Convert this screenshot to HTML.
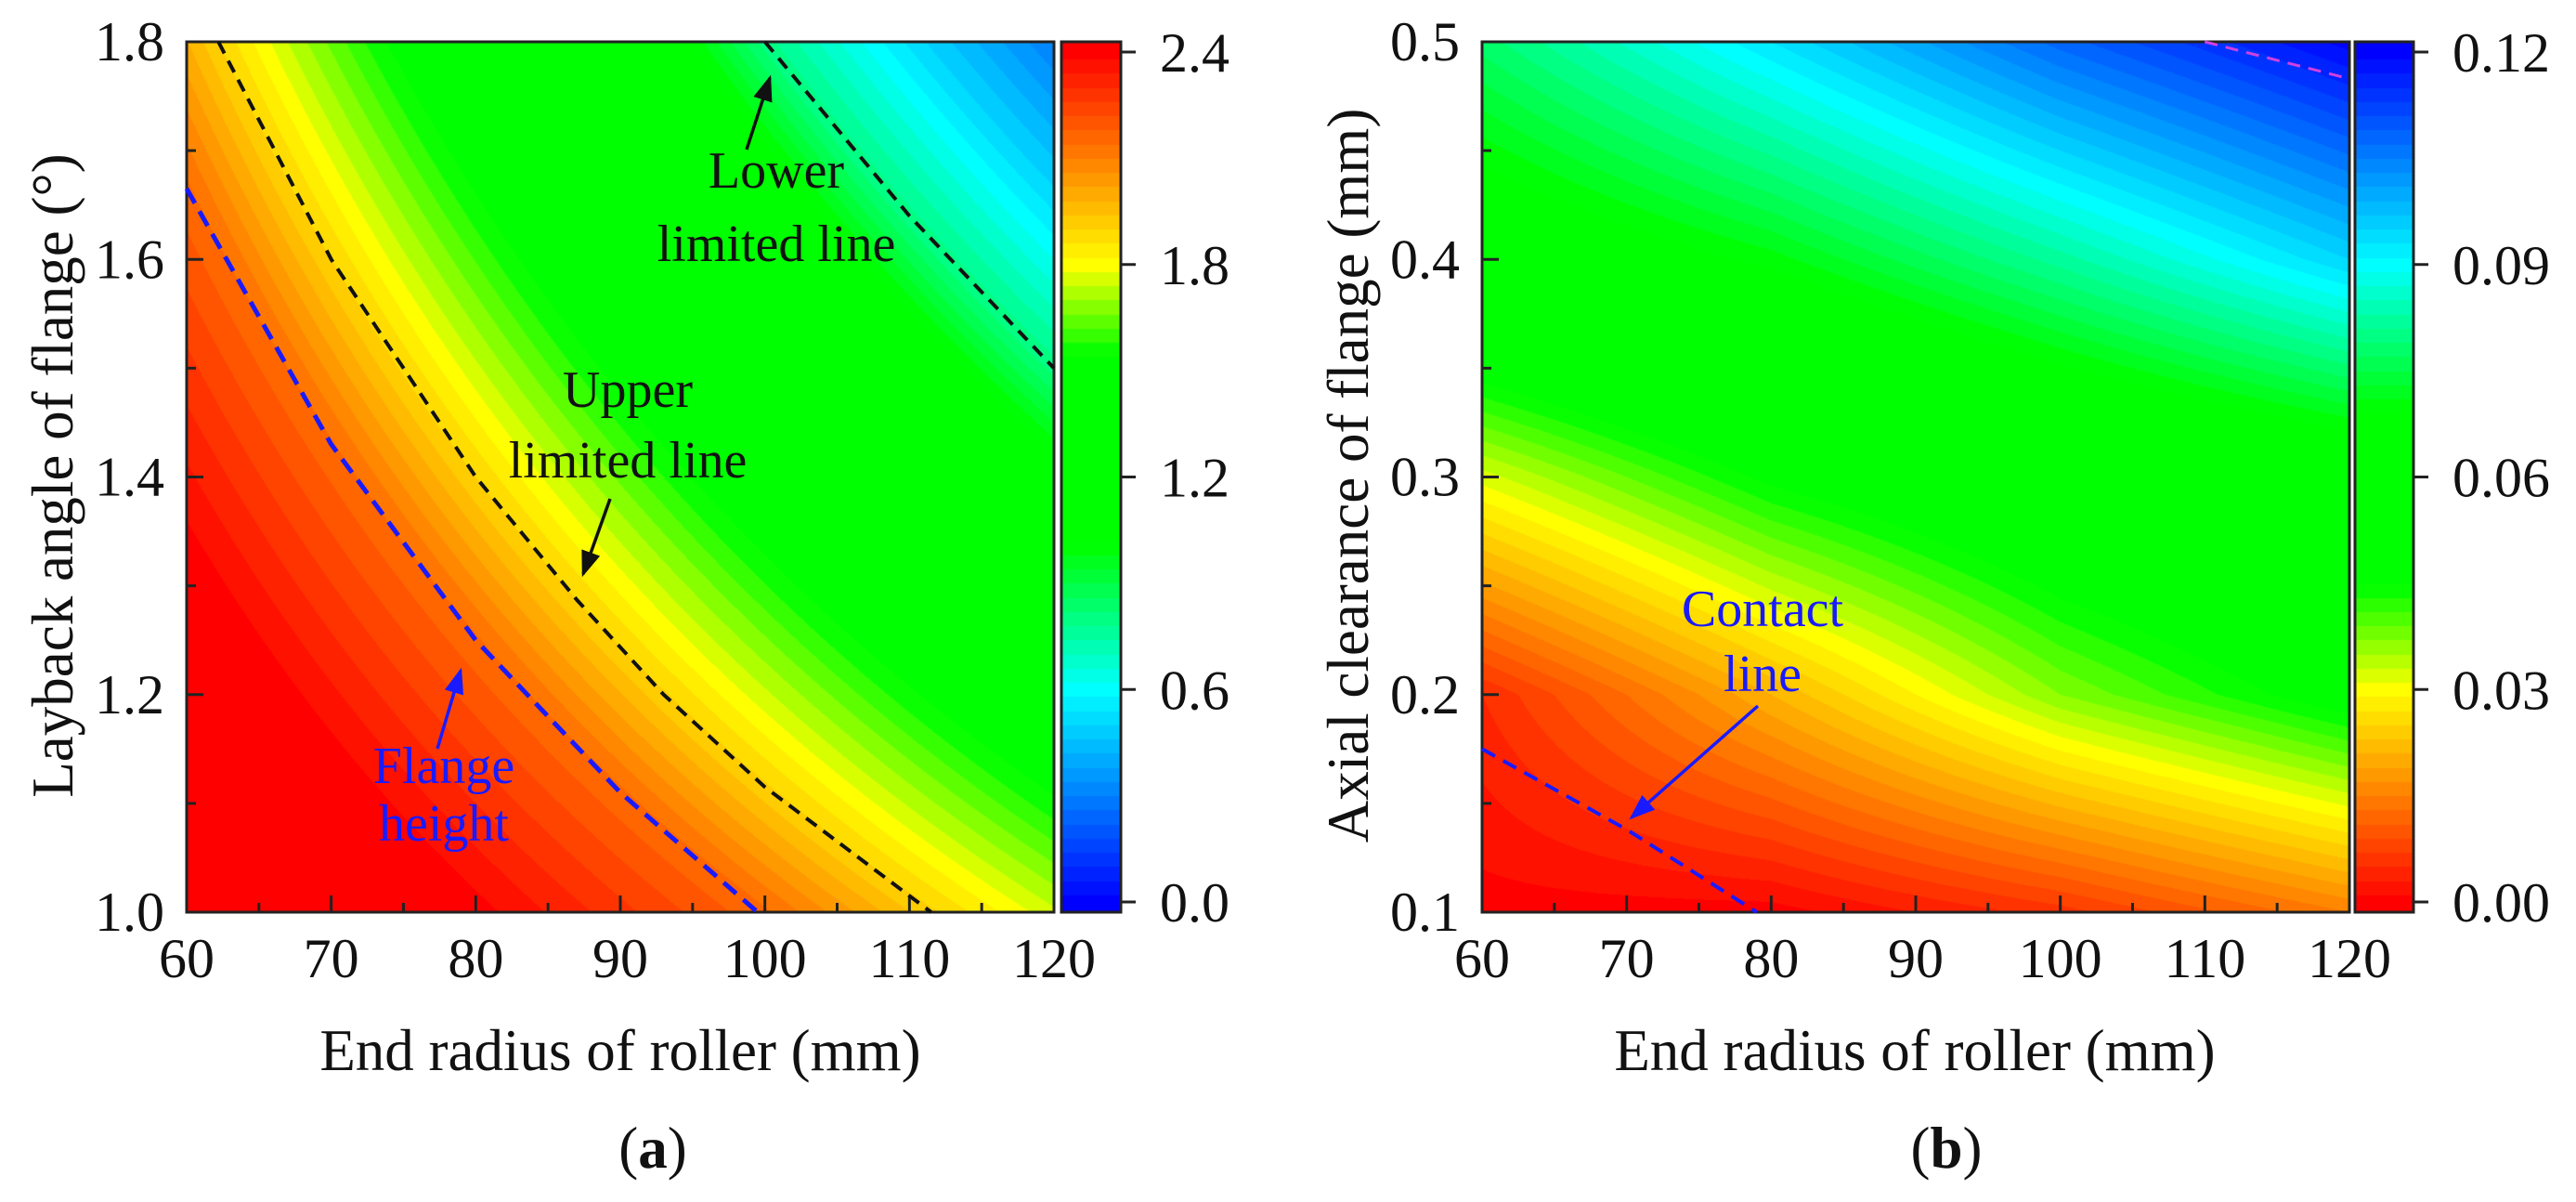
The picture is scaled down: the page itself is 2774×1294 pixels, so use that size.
<!DOCTYPE html>
<html><head><meta charset="utf-8">
<style>
html,body{margin:0;padding:0;background:#fff;}
#wrap{position:relative;width:2774px;height:1294px;overflow:hidden;background:#fff;}
canvas{position:absolute;}
svg{position:absolute;left:0;top:0;}
text{font-family:"Liberation Serif",serif;}
</style></head>
<body>
<div id="wrap">
<canvas id="hmA"></canvas>
<canvas id="cbA"></canvas>
<canvas id="hmB"></canvas>
<canvas id="cbB"></canvas>
<svg id="ov" width="2774" height="1294"></svg>
</div>
<script>
// ---------- Panel (a) data ----------
const xTicksA = [60,70,80,90,100,110,120];
const yTicksA = [1.0,1.2,1.4,1.6,1.8];
const cbTicksA = [0.0,0.6,1.2,1.8,2.4];
const cbLabelsA = ["0.0","0.6","1.2","1.8","2.4"];
const levelProdA = [80, 100, 112, 120, 132, 165, 180, 200, 216];
const levelValA  = [2.4, 2.15, 1.9, 1.75, 1.55, 1.15, 0.8, 0.5, 0.3];
const upperLine = [[62.2,1.8],[70,1.6],[80,1.4],[87,1.287],[93,1.2],[100,1.115],[111.5,1.0]];
const flangeLine = [[60,1.665],[70,1.43],[80,1.25],[90,1.11],[99.5,1.0]];
const lowerLine = [[100,1.8],[110,1.64],[120,1.5]];

// ---------- Panel (b) data ----------
const xTicksB = [60,70,80,90,100,110,120];
const yTicksB = [0.1,0.2,0.3,0.4,0.5];
const cbTicksB = [0.00,0.03,0.06,0.09,0.12];
const cbLabelsB = ["0.00","0.03","0.06","0.09","0.12"];
const gridXB = [60,80,100,120];
const gridYB = [0.1,0.2,0.3,0.4,0.5];
const gridValB = [
  [0.000,0.000,0.006,0.015],
  [0.005,0.021,0.037,0.048],
  [0.032,0.046,0.055,0.062],
  [0.062,0.070,0.082,0.095],
  [0.078,0.093,0.108,0.120]
];
const contactLine = [[60,0.175],[70,0.138],[79,0.1]];
const pinkLine = [[110,0.5],[120,0.483]];

// ---------- geometry ----------
const A = {x0:201,x1:1135,y0:45,y1:982,xmin:60,xmax:120,ymin:1.0,ymax:1.8,cb0:1143,cb1:1207,cbT:56,cbB:971,vmin:0,vmax:2.4};
const B = {x0:1596,x1:2530,y0:45,y1:982,xmin:60,xmax:120,ymin:0.1,ymax:0.5,cb0:2536,cb1:2599,cbT:56,cbB:971,vmin:0,vmax:0.12};

function sx(P,v){return P.x0+(v-P.xmin)/(P.xmax-P.xmin)*(P.x1-P.x0);}
function sy(P,v){return P.y1-(v-P.ymin)/(P.ymax-P.ymin)*(P.y1-P.y0);}
function cy(P,v){return P.cbB-(v-P.vmin)/(P.vmax-P.vmin)*(P.cbB-P.cbT);}

const cmapA = [[0,[0,0,255]],[0.125,[0,128,255]],[0.25,[0,255,255]],[0.42,[0,255,0]],[0.645,[0,255,0]],[0.75,[255,255,0]],[0.875,[255,128,0]],[1,[255,0,0]]];
const cmapB = [[0,[255,0,0]],[0.125,[255,128,0]],[0.25,[255,255,0]],[0.37,[0,255,0]],[0.58,[0,255,0]],[0.75,[0,255,255]],[0.875,[0,128,255]],[1,[0,0,255]]];
function cmap(m,t){
  if(t<=0) return m[0][1]; if(t>=1) return m[m.length-1][1];
  for(let i=1;i<m.length;i++){ if(t<=m[i][0]){const a=m[i-1],b=m[i];const f=(t-a[0])/(b[0]-a[0]);
    return [a[1][0]+(b[1][0]-a[1][0])*f,a[1][1]+(b[1][1]-a[1][1])*f,a[1][2]+(b[1][2]-a[1][2])*f];}}
}
function fieldA(x,y){
  const s=x*y;
  if(s<=levelProdA[0]) return levelValA[0];
  for(let i=1;i<levelProdA.length;i++){ if(s<=levelProdA[i]){const f=(s-levelProdA[i-1])/(levelProdA[i]-levelProdA[i-1]);return levelValA[i-1]+(levelValA[i]-levelValA[i-1])*f;}}
  return levelValA[levelValA.length-1];
}
function fieldB(x,y){
  let i=0; while(i<gridXB.length-2 && x>gridXB[i+1]) i++;
  let j=0; while(j<gridYB.length-2 && y>gridYB[j+1]) j++;
  const fx=Math.max(0,Math.min(1,(x-gridXB[i])/(gridXB[i+1]-gridXB[i])));
  const fy=Math.max(0,Math.min(1,(y-gridYB[j])/(gridYB[j+1]-gridYB[j])));
  const v00=gridValB[j][i],v10=gridValB[j][i+1],v01=gridValB[j+1][i],v11=gridValB[j+1][i+1];
  return (v00*(1-fx)+v10*fx)*(1-fy)+(v01*(1-fx)+v11*fx)*fy;
}
function drawHeat(id,P,field,m){
  const c=document.getElementById(id);const w=P.x1-P.x0,h=P.y1-P.y0;
  c.width=w;c.height=h;c.style.left=P.x0+'px';c.style.top=P.y0+'px';
  const ctx=c.getContext('2d');const img=ctx.createImageData(w,h);
  for(let py=0;py<h;py++){const yv=P.ymax-(py+0.5)/h*(P.ymax-P.ymin);
    for(let px=0;px<w;px++){const xv=P.xmin+(px+0.5)/w*(P.xmax-P.xmin);
      let v=field(xv,yv);let t=(v-P.vmin)/(P.vmax-P.vmin);
      t=Math.round(t*60)/60;
      const col=cmap(m,t);const k=(py*w+px)*4;
      img.data[k]=col[0];img.data[k+1]=col[1];img.data[k+2]=col[2];img.data[k+3]=255;}}
  ctx.putImageData(img,0,0);
}
function drawBar(id,P,m){
  const c=document.getElementById(id);const w=P.cb1-P.cb0,h=P.y1-P.y0;
  c.width=w;c.height=h;c.style.left=P.cb0+'px';c.style.top=P.y0+'px';
  const ctx=c.getContext('2d');
  for(let py=0;py<h;py++){const v=P.vmin+(P.cbB-(P.y0+py))/(P.cbB-P.cbT)*(P.vmax-P.vmin);
    let t=(v-P.vmin)/(P.vmax-P.vmin);t=Math.round(t*60)/60;const col=cmap(m,t);
    ctx.fillStyle='rgb('+col.map(Math.round).join(',')+')';ctx.fillRect(0,py,w,1);}
}
drawHeat('hmA',A,fieldA,cmapA);drawBar('cbA',A,cmapA);
drawHeat('hmB',B,fieldB,cmapB);drawBar('cbB',B,cmapB);

const NS='http://www.w3.org/2000/svg';const ov=document.getElementById('ov');
function el(tag,attrs,txt){const e=document.createElementNS(NS,tag);for(const k in attrs)e.setAttribute(k,attrs[k]);if(txt!==undefined)e.textContent=txt;ov.appendChild(e);return e;}

function axes(P,xt,yt,ydec,cbt,cbl,tag){
  let e;
  e=el('rect',{x:P.x0,y:P.y0,width:P.x1-P.x0,height:P.y1-P.y0,fill:'none',stroke:'#222','stroke-width':3});
  
  e=el('rect',{x:P.cb0,y:P.y0,width:P.cb1-P.cb0,height:P.y1-P.y0,fill:'none',stroke:'#222','stroke-width':3});
  
  xt.forEach((v,i)=>{const x=sx(P,v);
    e=el('line',{x1:x,y1:P.y1,x2:x,y2:P.y1-18,stroke:'#222','stroke-width':3});
    
    if(i<xt.length-1){const xm=sx(P,v+5);e=el('line',{x1:xm,y1:P.y1,x2:xm,y2:P.y1-10,stroke:'#222','stroke-width':3});
      }
    e=el('text',{x:x,y:1052,'font-size':60,'text-anchor':'middle',fill:'#111'},String(v));
    
  });
  yt.forEach((v,i)=>{const y=sy(P,v);
    e=el('line',{x1:P.x0,y1:y,x2:P.x0+18,y2:y,stroke:'#222','stroke-width':3});
    
    if(i<yt.length-1){const ym=sy(P,v+(yt[1]-yt[0])/2);e=el('line',{x1:P.x0,y1:ym,x2:P.x0+10,y2:ym,stroke:'#222','stroke-width':3});
      }
    e=el('text',{x:P.x0-24,y:y+20,'font-size':60,'text-anchor':'end',fill:'#111'},v.toFixed(ydec));
    
  });
  cbt.forEach((v,i)=>{const y=cy(P,v);
    e=el('line',{x1:P.cb1,y1:y,x2:P.cb1+16,y2:y,stroke:'#222','stroke-width':3});
    
    e=el('text',{x:P.cb1+42,y:y+21,'font-size':60,fill:'#111'},cbl[i]);
    
  });
}
axes(A,xTicksA,yTicksA,1,cbTicksA,cbLabelsA,'a');
axes(B,xTicksB,yTicksB,1,cbTicksB,cbLabelsB,'b');

function dline(P,pts,color,w,dash,name){
  const d=pts.map((p,i)=>(i?'L':'M')+sx(P,p[0]).toFixed(1)+' '+sy(P,p[1]).toFixed(1)).join(' ');
  const e=el('path',{d:d,fill:'none',stroke:color,'stroke-width':w,'stroke-dasharray':dash});
  
}
dline(A,upperLine,'#111',4,'14 9','upper-limited-line');
dline(A,flangeLine,'#1a1aff',5,'18 10','flange-height-line');
dline(A,lowerLine,'#111',4,'14 9','lower-limited-line');
dline(B,contactLine,'#1a1aff',4,'16 10','contact-line');
dline(B,pinkLine,'#d040e0',3,'14 9','pink-limit-line');

const defs=el('defs',{});
function marker(id,col){const m=document.createElementNS(NS,'marker');m.setAttribute('id',id);m.setAttribute('markerWidth','8');m.setAttribute('markerHeight','8');m.setAttribute('refX','7');m.setAttribute('refY','4');m.setAttribute('orient','auto');m.setAttribute('markerUnits','strokeWidth');
  const p=document.createElementNS(NS,'path');p.setAttribute('d','M0,1 L8,4 L0,7 Z');p.setAttribute('fill',col);m.appendChild(p);defs.appendChild(m);}
marker('ak','#111');marker('ab','#1a1aff');
function arrow(x1,y1,x2,y2,col,mk,name){const e=el('line',{x1:x1,y1:y1,x2:x2,y2:y2,stroke:col,'stroke-width':3.5,'marker-end':'url(#'+mk+')'});
  }
arrow(804,161,829,84,'#111','ak','lower-line-arrow');
arrow(657,537,628,618,'#111','ak','upper-line-arrow');
arrow(471,806,496,722,'#1a1aff','ab','flange-arrow');
arrow(1893,760,1757,880,'#1a1aff','ab','contact-arrow');

function txt(x,y,s,size,col,anchor,name,extra){const a={x:x,y:y,'font-size':size,fill:col,'text-anchor':anchor||'middle'};if(extra)for(const k in extra)a[k]=extra[k];
  const e=el('text',a,s);return e;}
txt(836,202,'Lower',56,'#111','middle','lower-label');
txt(836,281,'limited line',56,'#111','middle','lower-label-2');
txt(676,438,'Upper',56,'#111','middle','upper-label');
txt(676,514,'limited line',56,'#111','middle','upper-label-2');
txt(478,843,'Flange',56,'#1a1aff','middle','flange-label');
txt(478,905,'height',56,'#1a1aff','middle','flange-label-2');
txt(1898,674,'Contact',56,'#1a1aff','middle','contact-label');
txt(1898,744,'line',56,'#1a1aff','middle','contact-label-2');

txt(668,1152,'End radius of roller (mm)',63,'#111','middle','x-axis-title-a');
txt(2062,1152,'End radius of roller (mm)',63,'#111','middle','x-axis-title-b');
txt(0,0,'Layback angle of flange (°)',63,'#111','middle','y-axis-title-a',{transform:'translate(78,512) rotate(-90)'});
txt(0,0,'Axial clearance of flange (mm)',63,'#111','middle','y-axis-title-b',{transform:'translate(1473,512) rotate(-90)'});

const la=el('text',{x:703,y:1257,'font-size':63,'text-anchor':'middle',fill:'#111'});

la.innerHTML='(<tspan font-weight="bold">a</tspan>)';
const lb=el('text',{x:2096,y:1257,'font-size':63,'text-anchor':'middle',fill:'#111'});

lb.innerHTML='(<tspan font-weight="bold">b</tspan>)';
</script>
</body></html>
